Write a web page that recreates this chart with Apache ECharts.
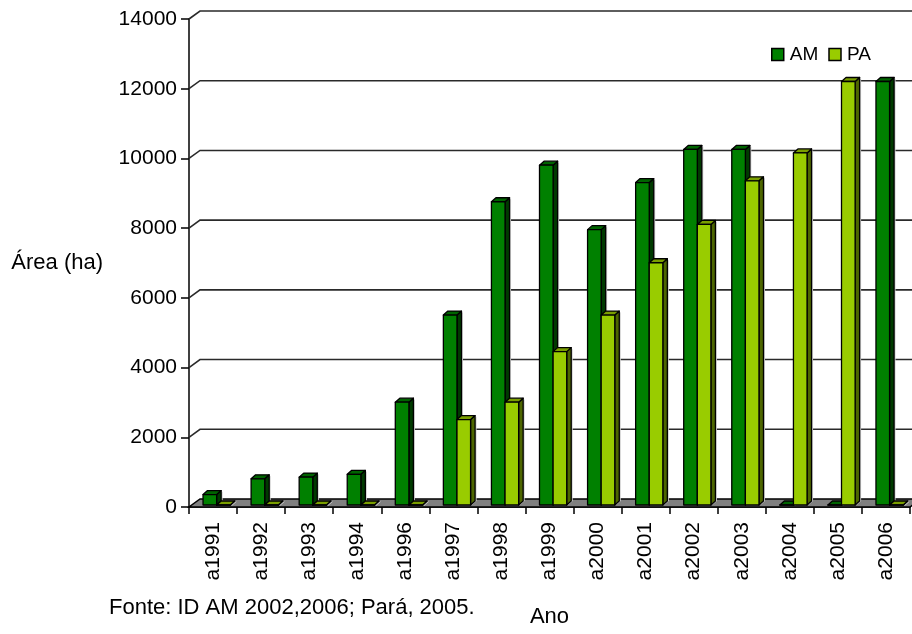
<!DOCTYPE html>
<html><head><meta charset="utf-8">
<script src="https://cdn.jsdelivr.net/npm/echarts@6/dist/echarts.min.js"></script>
<style>html,body{margin:0;padding:0;background:#fff}#c{width:912px;height:634px}</style>
</head><body><div id="c"></div>
<script>
const categories = ['a1991','a1992','a1993','a1994','a1996','a1997','a1998','a1999','a2000','a2001','a2002','a2003','a2004','a2005','a2006'];
const amValues = [300, 750, 800, 880, 2950, 5450, 8700, 9750, 7900, 9250, 10200, 10200, 0, 0, 12150];
const paValues = [0, 0, 0, 0, 0, 2450, 2950, 4400, 5450, 6950, 8050, 9300, 10100, 12150, 0];
const yTickValues = [0, 2000, 4000, 6000, 8000, 10000, 12000, 14000];
const seriesNames = ['AM', 'PA'];
const sourceText = 'Fonte: ID AM 2002,2006; Pará, 2005.';
const yName = 'Área (ha)';
const xName = 'Ano';

const FONT = '"Liberation Sans", Arial, Helvetica, sans-serif';
const WALL = {dx: 11, dy: -8};
const BAR = {dx: 4.5, dy: -4, lift: 2};
const AM_COL = {front: '#008000', top: '#006400', side: '#003a00'};
const PA_COL = {front: '#99cc00', top: '#7a9e00', side: '#4d6600'};

function barRenderer(offsetFrac, widthFrac, colors) {
  return function (params, api) {
    const idx = api.value(0), val = api.value(1);
    const base = api.coord([idx, 0]);
    const top = api.coord([idx, val]);
    const bw = api.size([1, 0])[0];
    const x0 = base[0] + offsetFrac * bw;
    const w = widthFrac * bw;
    const yb = base[1] - BAR.lift;
    const yt = top[1] - BAR.lift;
    const dx = BAR.dx, dy = BAR.dy;
    const st = (fill) => ({fill: fill, stroke: '#000', lineWidth: 1.3, lineJoin: 'round'});
    return {type: 'group', children: [
      {type: 'polygon', shape: {points: [[x0 + w + 1.5, yb], [x0 + w + dx + 1.5, yb + dy], [x0 + w + dx + 1.5, yt + dy + 1], [x0 + w + 1.5, yt + 1]]}, style: {fill: '#d0d0d0'}},
      {type: 'polygon', shape: {points: [[x0 + w, yb], [x0 + w + dx, yb + dy], [x0 + w + dx, yt + dy], [x0 + w, yt]]}, style: st(colors.side)},
      {type: 'polygon', shape: {points: [[x0, yt], [x0 + dx, yt + dy], [x0 + w + dx, yt + dy], [x0 + w, yt]]}, style: st(colors.top)},
      {type: 'rect', shape: {x: x0, y: yt, width: w, height: yb - yt}, style: st(colors.front)}
    ]};
  };
}

function wallRenderer(params, api) {
  const cs = params.coordSys;
  const v = api.value(1);
  const y = api.coord([0, v])[1];
  const xL = cs.x, xR = cs.x + cs.width;
  if (v === 0) {
    return {type: 'polygon', shape: {points: [[xL, y], [xR, y], [xR + WALL.dx, y + WALL.dy], [xL + WALL.dx, y + WALL.dy]]},
      style: {fill: '#808080', stroke: '#000', lineWidth: 1.5}};
  }
  return {type: 'polyline', shape: {points: [[xL, y], [xL + WALL.dx, y + WALL.dy], [xR + WALL.dx + 20, y + WALL.dy]]},
    style: {fill: 'none', stroke: '#2a2a2a', lineWidth: 1.6}};
}

const chart = echarts.init(document.getElementById('c'), null, {renderer: 'canvas'});
chart.setOption({
  animation: false,
  backgroundColor: '#fff',
  textStyle: {fontFamily: FONT, color: '#000'},
  title: {text: sourceText, left: 109, top: 597, padding: 0,
    textStyle: {fontSize: 22, fontWeight: 'normal', color: '#000', fontFamily: FONT}},
  legend: {data: seriesNames, left: 771, top: 45, padding: 0, icon: 'rect', itemWidth: 12, itemHeight: 12, itemGap: 10,
    itemStyle: {borderColor: '#000', borderWidth: 1.5},
    textStyle: {fontSize: 19, color: '#000', fontFamily: FONT, padding: [0, 0, 0, 1]}},
  grid: {left: 189, right: 2, top: 19, bottom: 127, containLabel: false, outerBoundsMode: 'none'},
  xAxis: {type: 'category', data: categories, boundaryGap: true,
    name: xName, nameLocation: 'middle', nameGap: 99,
    nameTextStyle: {fontSize: 22, color: '#000', fontFamily: FONT},
    axisLine: {lineStyle: {color: '#000', width: 1.5}},
    axisTick: {show: true, length: 7, interval: 0, lineStyle: {color: '#000', width: 1.5}},
    axisLabel: {rotate: 90, interval: 0, fontSize: 21, margin: 15, color: '#000', fontFamily: FONT},
    splitLine: {show: false}},
  yAxis: {type: 'value', min: 0, max: 14000, interval: 2000,
    name: yName, nameLocation: 'middle', nameGap: 86, nameRotate: 0,
    nameTextStyle: {fontSize: 22, color: '#000', fontFamily: FONT, padding: [6, 0, 0, 0]},
    axisLine: {show: true, lineStyle: {color: '#000', width: 1.5}},
    axisTick: {show: true, length: 8, lineStyle: {color: '#000', width: 1.5}},
    axisLabel: {fontSize: 21, margin: 12, color: '#000', fontFamily: FONT, formatter: (v) => String(v)},
    splitLine: {show: false}},
  series: [
    {type: 'custom', name: 'wall', z: 1, silent: true, renderItem: wallRenderer,
      data: yTickValues.map(v => [0, v]), encode: {x: 0, y: 1}},
    {type: 'custom', name: seriesNames[0], z: 3, renderItem: barRenderer(-0.208, 0.283, AM_COL),
      itemStyle: {color: AM_COL.front}, data: amValues.map((v, i) => [i, v]), encode: {x: 0, y: 1}},
    {type: 'custom', name: seriesNames[1], z: 4, renderItem: barRenderer(0.075, 0.283, PA_COL),
      itemStyle: {color: PA_COL.front}, data: paValues.map((v, i) => [i, v]), encode: {x: 0, y: 1}}
  ]
});
</script></body></html>
